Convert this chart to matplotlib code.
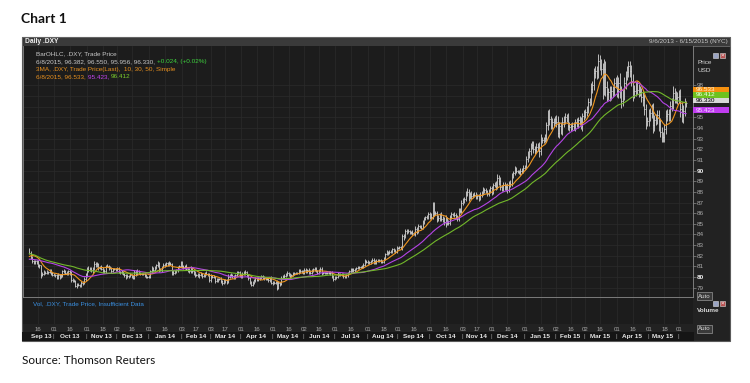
import numpy as np
import pandas as pd
import matplotlib
matplotlib.use("Agg")
import matplotlib.pyplot as plt
from matplotlib import font_manager
from matplotlib.patches import Rectangle
from matplotlib.transforms import blended_transform_factory

W, H = 750, 383

# closes before 6 Sep 2013, only used to warm up the moving averages
warmup_close = [
    83.0, 83.1,
    83.0, 83.3, 83.4, 83.6, 84.5, 84.5, 84.6, 83.6, 83.1, 83.3,
    83.0, 82.6, 82.5, 82.6, 82.1, 81.9, 81.9, 82.2, 82.0, 81.7,
    81.8, 82.0, 81.6, 82.4, 81.6, 81.6, 81.9, 81.5, 81.2, 81.2,
    81.5, 81.7, 81.8, 81.1, 81.1, 81.2, 81.3, 81.5, 81.6, 81.4,
    81.3, 81.2, 81.6, 81.8, 82.1, 82.0, 82.3, 82.2, 82.6,
]

# daily closes of .DXY, 6 Sep 2013 .. 8 Jun 2015, one row per month
close = [
    82.25, 81.88, 81.55, 81.33, 81.48, 81.40, 81.03, 81.10, 80.20, 80.27, 80.48, 80.40, 80.48, 80.45, 80.60, 80.35, 80.22,
    80.20, 80.15, 79.95, 80.15, 80.00, 80.17, 80.58, 80.53, 80.42, 80.35, 80.58, 80.36, 79.75, 79.65, 79.67, 79.20, 79.30, 79.24, 79.22, 79.40, 79.50, 79.85, 80.25,
    80.80, 80.65, 80.80, 80.62, 80.80, 81.25, 81.08, 81.23, 80.88, 80.93, 80.77, 80.53, 80.60, 81.03, 81.05, 80.85, 80.85, 80.55, 80.75, 80.78, 80.68,
    80.80, 80.50, 80.50, 80.40, 80.30, 80.15, 79.98, 80.10, 80.10, 80.18, 80.05, 79.95, 80.50, 80.33, 80.60, 80.40, 80.30, 80.30, 80.30, 80.18, 80.00, 80.04,
    80.05, 80.55, 80.85, 80.70, 80.90, 81.10, 81.30, 80.75, 80.65, 80.97, 81.18, 81.10, 81.28, 81.18, 81.28, 81.22, 80.45, 80.38, 80.48, 80.68, 80.98, 81.03, 81.35,
    81.00, 80.92, 81.02, 80.75, 80.70, 80.53, 80.85, 80.53, 80.42, 80.20, 80.20, 80.08, 80.23, 80.30, 80.10, 80.18, 80.38, 80.28, 80.30, 79.70,
    80.08, 80.03, 80.00, 79.65, 79.73, 79.82, 79.85, 79.63, 79.43, 79.60, 79.70, 79.55, 80.03, 80.18, 80.22, 80.08, 79.95, 80.20, 80.37, 80.45, 80.15,
    80.05, 80.32, 80.42, 80.45, 80.18, 79.88, 79.50, 79.30, 79.45, 79.70, 79.88, 79.75, 79.90, 79.92, 80.08, 79.92, 79.95, 79.85, 79.80, 79.70, 79.90, 79.45,
    79.50, 79.45, 79.50, 78.98, 79.40, 79.35, 79.92, 80.05, 80.13, 80.25, 80.38, 80.25, 80.08, 80.18, 80.30, 80.40, 80.40, 80.42, 80.65, 80.58, 80.55, 80.40,
    80.70, 80.55, 80.65, 80.43, 80.40, 80.60, 80.75, 80.80, 80.55, 80.40, 80.60, 80.78, 80.40, 80.38, 80.40, 80.40, 80.43, 80.38, 80.43, 80.08, 79.80,
    79.98, 79.97, 80.30, 80.25, 80.25, 80.20, 80.08, 80.05, 80.15, 80.35, 80.55, 80.65, 80.73, 80.62, 80.78, 80.85, 80.92, 80.95, 80.95, 80.98, 81.15, 81.48, 81.45,
    81.35, 81.40, 81.50, 81.62, 81.45, 81.38, 81.52, 81.55, 81.58, 81.50, 81.40, 81.72, 82.15, 82.35, 82.25, 82.38, 82.45, 82.60, 82.50, 82.40, 82.75,
    82.72, 82.80, 82.75, 83.82, 83.82, 84.35, 84.25, 84.30, 84.20, 84.25, 84.10, 84.05, 84.55, 84.25, 84.80, 84.75, 84.65, 85.15, 85.45, 85.62, 85.60, 85.95,
    85.75, 85.65, 86.78, 86.05, 86.02, 85.42, 85.58, 85.90, 85.48, 85.45, 85.20, 85.45, 85.15, 85.10, 85.65, 85.88, 85.90, 85.82, 85.62, 85.50, 86.22, 86.25, 87.00,
    87.18, 87.30, 87.80, 88.00, 87.55, 87.82, 87.58, 87.70, 87.75, 87.55, 87.60, 87.42, 87.75, 87.88, 88.22, 88.15, 88.05, 87.80, 88.05, 88.35,
    88.05, 88.62, 88.70, 88.50, 89.35, 89.05, 88.45, 88.30, 88.65, 88.45, 88.42, 88.20, 88.80, 88.75, 89.55, 89.78, 90.15, 89.92, 89.90, 89.85, 90.00, 90.00, 90.27,
    90.35, 91.08, 91.52, 91.85, 92.30, 92.40, 92.02, 91.95, 92.25, 92.25, 91.85, 92.85, 92.90, 92.90, 93.10, 94.25, 95.30, 94.80, 94.30, 94.52, 94.65, 94.80,
    94.55, 93.55, 94.15, 93.78, 94.55, 94.75, 95.00, 94.95, 94.15, 94.05, 94.20, 94.18, 94.15, 94.58, 94.38, 94.72, 94.65, 94.20, 95.10, 95.28,
    95.48, 95.75, 96.45, 96.48, 97.68, 98.05, 99.15, 99.35, 99.20, 100.25, 99.95, 99.55, 97.78, 99.55, 97.85, 97.15, 97.35, 97.05, 97.52, 97.40, 98.18, 98.35,
    97.45, 98.22, 97.45, 96.55, 97.10, 98.18, 98.92, 99.30, 99.82, 99.35, 98.45, 97.25, 97.50, 97.90, 97.60, 97.50, 97.38, 96.95, 96.65, 95.78, 94.60, 94.65,
    95.25, 95.45, 95.75, 94.25, 94.75, 94.78, 95.20, 94.35, 93.65, 93.20, 93.15, 93.95, 95.15, 95.28, 95.15, 96.05, 96.30, 97.30, 96.88, 96.80, 96.90,
    97.05, 95.75, 95.05, 95.62, 96.30, 96.33,
]

# bar extension above max(open, close) and below min(open, close), in hundredths
wick_up = [
    10, 18, 12, 10, 15, 12, 20, 10, 8, 25, 15, 12, 18, 10, 15, 12, 14,
    15, 12, 18, 20, 10, 15, 12, 20, 18, 15, 12, 10, 20, 15, 12, 10, 18, 15, 12, 20, 15, 12, 10,
    15, 20, 12, 18, 15, 22, 12, 15, 10, 12, 18, 20, 15, 12, 18, 10, 15, 12, 15, 10, 12,
    12, 15, 10, 15, 18, 12, 10, 15, 12, 20, 15, 18, 20, 12, 15, 10, 8, 8, 10, 12, 15, 10,
    10, 15, 20, 12, 18, 15, 20, 12, 15, 10, 18, 12, 15, 10, 20, 15, 12, 18, 15, 12, 10, 15, 20,
    15, 12, 10, 18, 15, 12, 20, 10, 15, 12, 10, 15, 12, 18, 10, 15, 12, 18, 10, 12,
    20, 12, 15, 10, 18, 12, 10, 15, 12, 20, 15, 10, 25, 15, 12, 10, 15, 12, 18, 15, 10,
    12, 15, 18, 20, 10, 12, 15, 10, 18, 15, 12, 10, 15, 12, 10, 12, 15, 10, 12, 15, 10, 18,
    12, 10, 15, 18, 25, 12, 20, 15, 12, 18, 15, 12, 10, 12, 15, 10, 12, 10, 15, 12, 10, 15,
    15, 20, 12, 18, 25, 15, 12, 15, 18, 10, 12, 20, 15, 10, 12, 10, 8, 12, 10, 15, 12,
    15, 10, 20, 12, 10, 12, 15, 10, 12, 15, 12, 18, 10, 15, 12, 10, 12, 10, 8, 12, 15, 18, 12,
    20, 15, 12, 18, 15, 20, 15, 12, 10, 12, 15, 20, 15, 18, 12, 15, 12, 10, 12, 15, 18,
    12, 15, 10, 20, 25, 18, 15, 20, 15, 12, 15, 18, 25, 20, 15, 12, 18, 20, 15, 12, 18, 20,
    20, 25, 30, 25, 20, 20, 25, 15, 20, 25, 20, 40, 20, 25, 15, 20, 15, 20, 18, 22, 25, 20, 25,
    25, 20, 30, 35, 25, 20, 22, 18, 20, 25, 20, 22, 25, 20, 25, 18, 20, 15, 20, 22,
    25, 20, 22, 30, 30, 25, 35, 20, 30, 25, 30, 40, 25, 30, 25, 20, 25, 15, 12, 15, 20, 25, 30,
    20, 30, 35, 30, 25, 35, 40, 30, 35, 30, 45, 60, 30, 25, 30, 35, 40, 45, 35, 40, 30, 35,
    40, 55, 40, 45, 50, 35, 40, 30, 45, 40, 30, 35, 40, 30, 35, 30, 45, 40, 35, 40,
    35, 30, 40, 35, 50, 40, 45, 50, 45, 70, 60, 50, 60, 90, 70, 55, 45, 60, 40, 45, 50, 40,
    60, 55, 90, 50, 55, 60, 45, 50, 45, 50, 55, 60, 50, 45, 50, 55, 45, 40, 50, 55, 45, 40,
    55, 45, 50, 60, 50, 55, 45, 50, 55, 45, 40, 45, 50, 55, 50, 45, 50, 60, 45, 55, 50,
    50, 60, 70, 55, 50, 22,
]
wick_dn = [
    12, 15, 20, 10, 12, 15, 10, 14, 30, 10, 12, 15, 10, 12, 10, 15, 12,
    12, 15, 10, 15, 18, 10, 12, 15, 10, 20, 12, 15, 25, 12, 10, 15, 20, 10, 12, 15, 10, 12, 18,
    20, 15, 10, 12, 25, 18, 15, 10, 20, 12, 10, 15, 12, 20, 10, 15, 12, 18, 10, 12, 15,
    15, 12, 18, 10, 12, 15, 20, 10, 15, 12, 18, 15, 10, 20, 12, 8, 8, 10, 12, 15, 10, 12,
    12, 10, 15, 20, 10, 12, 15, 25, 10, 15, 12, 18, 10, 15, 12, 10, 25, 15, 12, 10, 18, 12, 10,
    12, 15, 18, 10, 20, 15, 10, 12, 18, 15, 12, 10, 15, 12, 18, 10, 15, 12, 15, 20,
    15, 10, 12, 20, 10, 15, 12, 18, 15, 10, 12, 18, 10, 12, 15, 12, 10, 15, 12, 10, 15,
    10, 12, 15, 18, 20, 15, 12, 18, 10, 12, 15, 12, 10, 15, 12, 10, 15, 12, 10, 15, 12, 10,
    15, 12, 10, 20, 12, 15, 10, 12, 15, 10, 12, 15, 18, 10, 12, 10, 8, 12, 10, 15, 12, 10,
    12, 15, 20, 18, 15, 10, 12, 15, 10, 12, 15, 12, 20, 12, 10, 8, 12, 10, 15, 12, 15,
    12, 15, 10, 18, 12, 10, 12, 15, 10, 12, 10, 12, 15, 10, 12, 10, 8, 12, 10, 10, 12, 15, 12,
    15, 12, 18, 10, 20, 15, 12, 10, 15, 20, 12, 10, 15, 12, 18, 12, 10, 15, 12, 10, 15,
    10, 12, 15, 20, 30, 15, 18, 12, 15, 20, 15, 12, 20, 25, 15, 12, 15, 18, 15, 12, 15, 18,
    25, 20, 18, 35, 20, 25, 20, 30, 20, 25, 30, 45, 25, 20, 25, 20, 18, 20, 15, 25, 20, 18, 20,
    20, 25, 18, 22, 45, 20, 25, 20, 18, 22, 20, 25, 18, 22, 20, 25, 18, 20, 15, 20,
    30, 25, 20, 35, 20, 40, 30, 25, 20, 30, 35, 30, 25, 30, 20, 25, 15, 12, 15, 20, 25, 20, 25,
    25, 20, 30, 35, 40, 30, 35, 40, 30, 45, 55, 40, 30, 35, 25, 40, 45, 50, 40, 35, 40, 30,
    45, 40, 50, 35, 40, 45, 35, 40, 30, 35, 30, 40, 35, 40, 30, 40, 35, 30, 45, 35,
    30, 35, 30, 40, 35, 40, 50, 45, 60, 50, 55, 60, 110, 70, 80, 60, 50, 55, 45, 50, 40, 45,
    50, 60, 65, 70, 45, 50, 55, 45, 50, 60, 55, 70, 45, 50, 45, 55, 40, 50, 55, 60, 70, 45,
    45, 55, 50, 70, 55, 50, 45, 60, 50, 55, 50, 45, 55, 50, 45, 50, 45, 55, 50, 45, 55,
    55, 70, 50, 60, 45, 34,
]

ma_windows = [10, 30, 50]
ma_colors = ['#f0961e', '#b444e6', '#72b82a']
ma_last = ['96.533', '95.423', '96.412']
last_bar = '6/8/2015, 96.382, 96.550, 95.956, 96.330, '
last_change = '+0.024, (+0.02%)'
price_ticks = list(range(79, 99))
first_day, last_day, axis_end = '2013-09-06', '2015-06-08', '2015-06-15'

# ---- prepare ----
days = pd.bdate_range(first_day, axis_end)
n = len(close)
assert n == len(pd.bdate_range(first_day, last_day)) == len(wick_up) == len(wick_dn), \
    (n, len(pd.bdate_range(first_day, last_day)), len(wick_up), len(wick_dn))

c = np.array(close)
o = np.r_[warmup_close[-1], c[:-1]]
hi = np.maximum(o, c) + np.array(wick_up) / 100
lo = np.minimum(o, c) - np.array(wick_dn) / 100
all_close = pd.Series(warmup_close + close)
mas = [all_close.rolling(w).mean().to_numpy()[len(warmup_close):] for w in ma_windows]

# tick every 1st and 16th (next trading day)
tick_idx, tick_lab = [], []
for m in pd.period_range('2013-09', '2015-06', freq='M'):
    for d in (1, 16):
        t = pd.Timestamp(m.year, m.month, d)
        if t < days[0] or t > days[-1]:
            continue
        i = days.searchsorted(t)
        if i < len(days):
            tick_idx.append(i)
            tick_lab.append(days[i].strftime('%d'))

names = {f.name for f in font_manager.fontManager.ttflist}
small = 'Liberation Sans Narrow' if 'Liberation Sans Narrow' in names else 'Liberation Sans'
plt.rcParams['font.family'] = [small, 'DejaVu Sans']
FS = 4.6


def fx(px):
    return px / W


def fy(py):
    return 1 - py / H


def frect(x0, y0, x1, y1, **kw):
    # rectangle in picture pixels (top-left origin)
    fig.patches.append(Rectangle((fx(x0), fy(y1)), fx(x1 - x0), (y1 - y0) / H,
                                 transform=fig.transFigure, **kw))


fig = plt.figure(figsize=(7.5, 3.83), dpi=100)
fig.patch.set_facecolor('white')

# dark panel, title bar, date strip (behind the axes)
frect(22, 37, 730, 341, fc='#222222', ec='#5a5a5a', lw=0.8, zorder=-3)
frect(22, 37, 730, 46, fc='#3a3a3a', ec='#6a6a6a', lw=0.6, zorder=-2)
frect(22, 332, 694, 341, fc='#151515', ec='none', zorder=-2)

xmin, xmax = -4.4, 460.8

# ---- price pane ----
ax = fig.add_axes([fx(23), fy(297), fx(670), 251 / H])
ax.set_facecolor('#1c1c1c')
xs = np.arange(n)
ax.vlines(xs, lo, hi, color='#bdbdbd', lw=0.7, zorder=3)
ax.hlines(o, xs - 0.45, xs, color='#bdbdbd', lw=0.5, zorder=3)
ax.hlines(c, xs, xs + 0.45, color='#dcdcdc', lw=0.5, zorder=3)
for ma, col in zip(mas, ma_colors):
    ax.plot(xs, ma, color=col, lw=0.8, zorder=4)

ax.set_xlim(xmin, xmax)
ax.set_ylim(78.13, 101.7)
ax.set_xticks(tick_idx)
ax.set_yticks(price_ticks, [str(t) if t not in (96, 97) else '' for t in price_ticks])
ax.grid(True, color='#2b2b2b', lw=0.5)
ax.yaxis.tick_right()
ax.tick_params(axis='x', length=0, labelbottom=False)
ax.tick_params(axis='y', length=2, width=0.5, color='#8a8a8a', labelsize=FS,
               labelcolor='#a8a8a8', pad=1)
for lab in ax.get_yticklabels():
    if lab.get_text() in ('80', '90'):
        lab.set_color('#f0f0f0')
        lab.set_fontweight('bold')
for side in ('left', 'right', 'bottom'):
    ax.spines[side].set_color('#8a8a8a')
    ax.spines[side].set_linewidth(0.6)
ax.spines['top'].set_visible(False)

# last value boxes; the three close ones are stacked upward from the last close
tr = blended_transform_factory(ax.transAxes, ax.transData)
box_w = 36 / 670
box_h = 0.52
stack = [('%.3f' % close[-1], '#d8d8d8', '#000000'),
         (ma_last[2], '#6ec21e', '#f4fff0'),
         (ma_last[0], '#f5900f', '#fff4e0')]
boxes = [(float(ma_last[1]), ma_last[1], '#c03cf0', '#f4e0ff')]
for k, (s, fc, tc) in enumerate(stack):
    boxes.append((close[-1] + k * box_h, s, fc, tc))
for v, s, fc, tc in boxes:
    ax.add_patch(Rectangle((1.0, v), box_w, box_h, transform=tr, fc=fc, ec='none',
                           clip_on=False, zorder=6))
    ax.text(1.004, v + box_h / 2, s, transform=tr, fontsize=FS, color=tc,
            va='center', ha='left', zorder=7, clip_on=False)

# legend text in the pane
fig.text(fx(36), fy(54), 'BarOHLC, .DXY, Trade Price', fontsize=FS, color='#c8c8c8', va='center')
t2 = fig.text(fx(36), fy(61.5), last_bar, fontsize=FS, color='#c8c8c8', va='center')
fig.text(fx(36), fy(69), '3MA, .DXY, Trade Price(Last),  10, 30, 50, Simple',
         fontsize=FS, color='#e8901e', va='center')
t4 = fig.text(fx(36), fy(76.5), '6/8/2015, ' + ma_last[0] + ', ', fontsize=FS,
              color='#e8901e', va='center')
fig.texts.append(matplotlib.text.Annotation(last_change, xy=(1, 0.5), xycoords=t2,
                                            fontsize=FS, color='#3ed23e', va='center'))
t5 = matplotlib.text.Annotation(ma_last[1] + ', ', xy=(1, 0.5), xycoords=t4,
                                fontsize=FS, color='#c444f0', va='center')
fig.texts.append(t5)
fig.texts.append(matplotlib.text.Annotation(ma_last[2], xy=(1, 0.5), xycoords=t5,
                                            fontsize=FS, color='#7ccc2c', va='center'))
for t in fig.texts[-3:]:
    t.set_figure(fig)

# ---- volume pane ----
vax = fig.add_axes([fx(23), fy(324), fx(670), 26 / H])
vax.set_facecolor('#1c1c1c')
vax.set_xlim(xmin, xmax)
vax.set_ylim(0, 1)
vax.set_yticks([])
vax.set_xticks(tick_idx, tick_lab)
vax.grid(True, axis='x', color='#2b2b2b', lw=0.5)
vax.tick_params(axis='x', length=0, labelsize=4.4, labelcolor='#a8a8a8', pad=2)
for sp in vax.spines.values():
    sp.set_visible(False)
vax.text(0.015, 0.78, 'Vol, .DXY, Trade Price, Insufficient Data', transform=vax.transAxes,
         fontsize=FS, color='#3a8fe0', va='center')

# month labels with separators (the short June 2015 stub gets no label)
mt = blended_transform_factory(vax.transData, fig.transFigure)
month_start = [0] + [i for i in range(1, len(days)) if days[i].month != days[i - 1].month]
month_end = month_start[1:] + [len(days)]
for a, b in zip(month_start, month_end):
    if b - a >= 15:
        vax.text((a + b - 1) / 2, fy(336.5), days[a].strftime('%b %y'), transform=mt,
                 fontsize=FS, fontweight='bold', color='#e8e8e8', ha='center', va='center',
                 clip_on=False)
    if a > 0:
        vax.text(a - 0.5, fy(336.5), '|', transform=mt, fontsize=4.4, color='#9a9a9a',
                 ha='center', va='center', clip_on=False)

# ---- header / right side decorations ----
fig.text(fx(25), fy(41.5), 'Daily .DXY', fontsize=4.8, fontweight='bold', color='#f0f0f0', va='center')
fig.text(fx(728), fy(42), '9/6/2013 - 6/15/2015 (NYC)', fontsize=FS, color='#c8c8c8',
         va='center', ha='right')
fig.text(fx(697), fy(63), 'Price', fontsize=FS, color='#d8d8d8', va='center')
fig.text(fx(697), fy(70), 'USD', fontsize=FS, color='#d8d8d8', va='center')
fig.text(fx(697), fy(311), 'Volume', fontsize=FS, fontweight='bold', color='#d8d8d8', va='center')
for yy in (55, 303):
    frect(713, yy - 2.5, 718, yy + 2.5, fc='#9aa4c4', ec='#dddddd', lw=0.4, zorder=1)
    frect(720, yy - 2.5, 725, yy + 2.5, fc='#b85050', ec='#dddddd', lw=0.4, zorder=1)
    fig.text(fx(722.5), fy(yy), '×', fontsize=4.5, color='white', ha='center', va='center')
for yy in (296, 329):
    fig.text(fx(698), fy(yy), 'Auto', fontsize=4.4, color='#d8d8d8', va='center',
             bbox=dict(boxstyle='square,pad=0.2', fc='#3a3a3a', ec='#b0b0b0', lw=0.4))

# ---- page text ----
fig.text(fx(21), fy(19), 'Chart 1', fontsize=10, fontweight='bold', family='Lato',
         color='#111111', va='center')
fig.text(fx(22), fy(360), 'Source: Thomson Reuters', fontsize=8.5, family='Lato',
         color='#111111', va='center')

fig.savefig('out.png', dpi=100, facecolor='white')
